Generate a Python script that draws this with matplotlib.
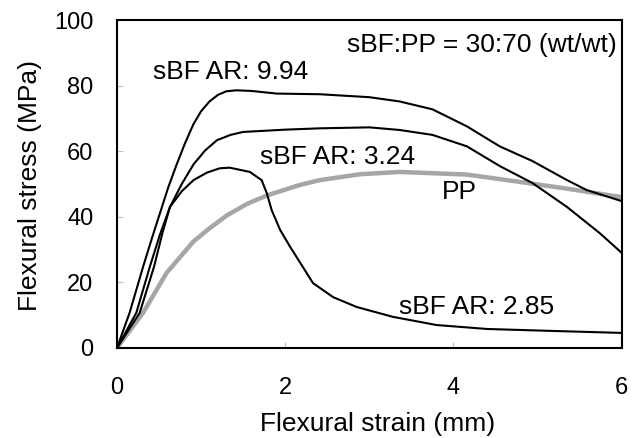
import matplotlib.pyplot as plt

plt.rcParams['font.family'] = ['Liberation Sans', 'DejaVu Sans']

# flexural strain (mm) / stress (MPa)
ar994_x = [0, 0.15, 0.31, 0.41, 0.51, 0.61, 0.71, 0.81, 0.91, 1.0, 1.1, 1.2,
           1.3, 1.42, 1.6, 1.9, 2.41, 3.0, 3.36, 3.75, 4.16, 4.55, 4.94, 5.35,
           5.58, 6.0]
ar994_y = [0, 10.7, 24.7, 33, 41, 49, 56, 62.5, 68.3, 72.2, 75.2, 77.2,
           78.3, 78.6, 78.4, 77.6, 77.4, 76.5, 75.2, 72.8, 67.6, 61.5, 57.0, 51.2,
           48.2, 44.8]

ar324_x = [0, 0.23, 0.39, 0.51, 0.63, 0.77, 0.91, 1.05, 1.19, 1.35, 1.5, 2.0,
           2.41, 3.0, 3.36, 3.75, 4.16, 4.55, 4.94, 5.35, 5.74, 6.0]
ar324_y = [0, 10.7, 24.7, 34.5, 43, 50, 56, 60.3, 63.4, 65.0, 65.9, 66.6,
           67.0, 67.3, 66.5, 65.0, 61.5, 55.5, 50.3, 43.0, 35.0, 29.0]

ar285_x = [0, 0.27, 0.44, 0.54, 0.63, 0.77, 0.91, 1.07, 1.22, 1.34, 1.58, 1.72,
           1.78, 1.84, 1.94, 2.06, 2.21, 2.33, 2.57, 2.85, 3.28, 3.8, 4.4, 5.18,
           6.0]
ar285_y = [0, 10.7, 24.7, 35, 43, 47.8, 51.2, 53.5, 54.8, 55.0, 53.7, 51.2,
           47.3, 42, 36, 30.8, 24.7, 19.8, 15.5, 12.5, 9.5, 7.0, 5.8, 5.2,
           4.6]

pp_x = [0, 0.31, 0.59, 0.91, 1.1, 1.31, 1.55, 1.78, 2.17, 2.41, 2.89, 3.36,
        4.16, 4.75, 5.35, 6.0]
pp_y = [0, 10.7, 22.9, 32.5, 36.5, 40.5, 44.0, 46.5, 49.7, 51.2, 53.0, 53.7,
        52.9, 50.8, 48.6, 46.0]

fig = plt.figure(figsize=(6.39, 4.38), dpi=100)
ax = fig.add_axes([0.183, 0.2055, 0.790, 0.7485])

ax.plot(pp_x, pp_y, color='#a6a6a6', lw=3.2, zorder=1)
ax.plot(ar994_x, ar994_y, color='black', lw=1.5, zorder=2)
ax.plot(ar324_x, ar324_y, color='black', lw=1.5, zorder=2)
ax.plot(ar285_x, ar285_y, color='black', lw=1.5, zorder=2)

ax.set_xlim(0, 6)
ax.set_ylim(0, 100)
ax.set_xticks([0, 2, 4, 6])
ax.set_yticks([0, 20, 40, 60, 80, 100])
ax.tick_params(direction='in', length=4, width=0.8, color='#c0c0c0', labelsize=17)
ax.tick_params(axis='y', pad=17)
ax.tick_params(axis='x', pad=21)
for s in ax.spines.values():
    s.set_linewidth(1.5)

ax.set_xlabel('Flexural strain (mm)', fontsize=19)
ax.set_ylabel('Flexural stress (MPa)', fontsize=19)
ax.xaxis.set_label_coords(0.517, -0.232)
ax.xaxis.label.set_va('center')
ax.yaxis.set_label_coords(-0.172, 0.497)
ax.yaxis.label.set_va('center')

ax.text(0.43, 84.3, 'sBF AR: 9.94', fontsize=19, va='center', ha='left')
ax.text(5.94, 92.4, 'sBF:PP = 30:70 (wt/wt)', fontsize=19, va='center', ha='right')
ax.text(1.70, 58.2, 'sBF AR: 3.24', fontsize=19, va='center', ha='left')
ax.text(4.07, 47.6, 'PP', fontsize=19, va='center', ha='center')
ax.text(4.27, 12.5, 'sBF AR: 2.85', fontsize=19, va='center', ha='center')

fig.savefig('out.png', dpi=100)
